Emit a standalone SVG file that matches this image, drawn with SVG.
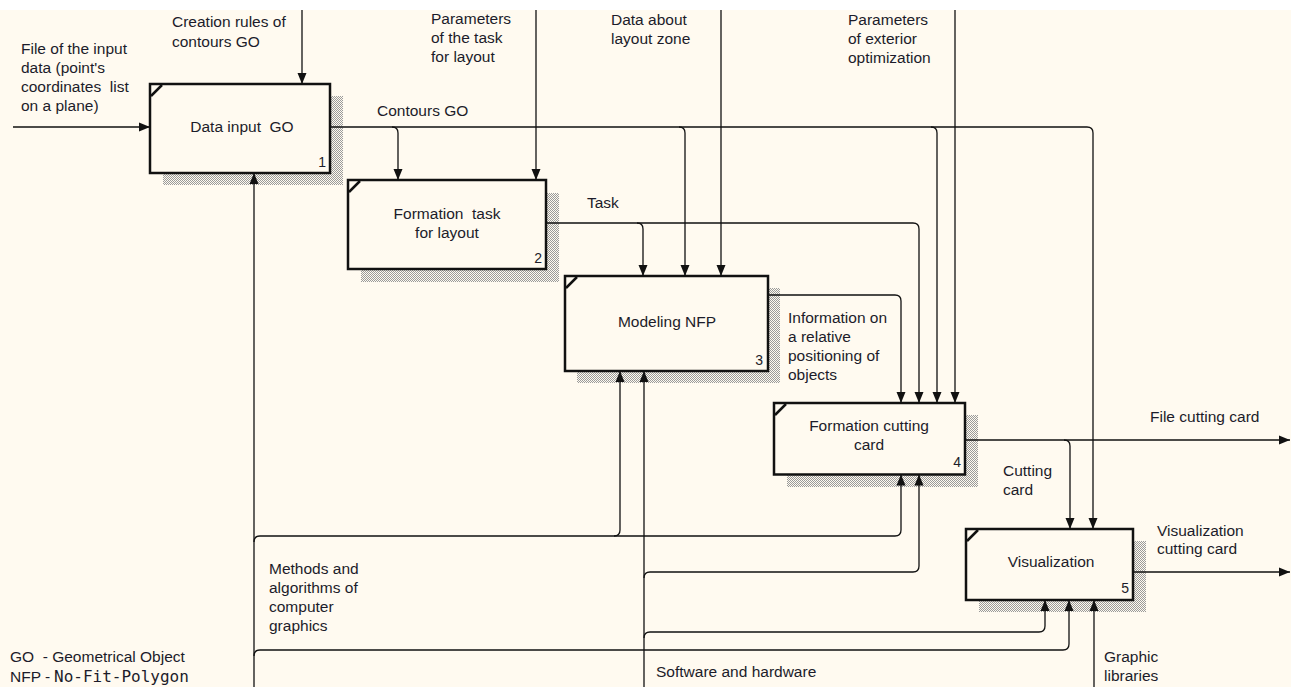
<svg xmlns="http://www.w3.org/2000/svg" width="1291" height="687" viewBox="0 0 1291 687">
<defs>
<style>
.t{font-family:"Liberation Sans",Arial,sans-serif;font-size:15.5px;fill:#1c1c2a}
.c{text-anchor:middle}
.n{font-family:"Liberation Sans",Arial,sans-serif;font-size:14px;fill:#1c1c2a;text-anchor:end}
.box{fill:#FFFAF0;stroke:#111;stroke-width:2.5}
.shadow{fill:url(#hatch)}
.mark{stroke:#111;stroke-width:2.5}
.ln{fill:none;stroke:#111;stroke-width:1.3}
.mono{font-family:"DejaVu Sans Mono","Liberation Mono",monospace;font-size:16px}
</style>
<pattern id="hatch" width="2" height="2" patternUnits="userSpaceOnUse">
<rect width="2" height="2" fill="#FFFAF0"/>
<rect width="1" height="1" fill="#9a9a9a"/>
<rect x="1" y="1" width="1" height="1" fill="#9a9a9a"/>
</pattern>
<marker id="arr" viewBox="0 0 11 10" refX="11" refY="5" markerWidth="11" markerHeight="10" markerUnits="userSpaceOnUse" orient="auto">
<path d="M0,0.5 L11,5 L0,9.5 z" fill="#111"/>
</marker>
</defs>
<rect x="0" y="0" width="1291" height="687" fill="#ffffff"/>
<rect x="0" y="10" width="1291" height="677" fill="#FFFAF0"/>

<g id="box1">
<rect class="shadow" x="163" y="96" width="180" height="89"/>
<rect class="box" x="150" y="84" width="180" height="89"/>
<line class="mark" x1="151" y1="96" x2="162" y2="85"/>
<text class="t c" x="242" y="132" xml:space="preserve">Data input  GO</text>
<text class="n" x="326" y="167">1</text>
</g>

<g id="box2">
<rect class="shadow" x="361" y="193" width="198" height="89"/>
<rect class="box" x="348" y="180" width="198" height="89"/>
<line class="mark" x1="349" y1="192" x2="360" y2="181"/>
<text class="t c" x="447" y="218.5" xml:space="preserve">Formation  task</text>
<text class="t c" x="447" y="238">for layout</text>
<text class="n" x="542" y="263">2</text>
</g>

<g id="box3">
<rect class="shadow" x="577" y="288" width="203" height="95"/>
<rect class="box" x="565" y="276" width="203" height="95"/>
<line class="mark" x1="566" y1="288" x2="577" y2="277"/>
<text class="t c" x="667" y="327">Modeling NFP</text>
<text class="n" x="763" y="365">3</text>
</g>

<g id="box4">
<rect class="shadow" x="787" y="415" width="191" height="72"/>
<rect class="box" x="774" y="403" width="191" height="71.5"/>
<line class="mark" x1="775" y1="415" x2="786" y2="404"/>
<text class="t c" x="869" y="430.5">Formation cutting</text>
<text class="t c" x="869" y="449.5">card</text>
<text class="n" x="961" y="467">4</text>
</g>

<g id="box5">
<rect class="shadow" x="979" y="541" width="167" height="71"/>
<rect class="box" x="966" y="529" width="167" height="71"/>
<line class="mark" x1="967" y1="541" x2="978" y2="530"/>
<text class="t c" x="1051" y="567">Visualization</text>
<text class="n" x="1129" y="593">5</text>
</g>

<g id="connectors">
<path class="ln" marker-end="url(#arr)" d="M13,127 H150"/>
<path class="ln" marker-end="url(#arr)" d="M302,10 V84"/>
<path class="ln" marker-end="url(#arr)" d="M536,10 V180"/>
<path class="ln" marker-end="url(#arr)" d="M721,10 V276"/>
<path class="ln" marker-end="url(#arr)" d="M955,10 V403"/>

<path class="ln" marker-end="url(#arr)" d="M330,127 H1087 Q1093,127 1093,133 V529"/>
<path class="ln" marker-end="url(#arr)" d="M392,127 Q398,127 398,133 V180"/>
<path class="ln" marker-end="url(#arr)" d="M679,127 Q685,127 685,133 V276"/>
<path class="ln" marker-end="url(#arr)" d="M931,127 Q937,127 937,133 V403"/>

<path class="ln" marker-end="url(#arr)" d="M546,223 H913 Q919,223 919,229 V403"/>
<path class="ln" marker-end="url(#arr)" d="M637,223 Q643,223 643,229 V276"/>

<path class="ln" marker-end="url(#arr)" d="M768,295 H895 Q901,295 901,301 V403"/>

<path class="ln" marker-end="url(#arr)" d="M965,440 H1290"/>
<path class="ln" marker-end="url(#arr)" d="M1064,440 Q1070,440 1070,446 V529"/>
<path class="ln" marker-end="url(#arr)" d="M1133,572 H1290"/>

<path class="ln" marker-end="url(#arr)" d="M254,687 V173"/>
<path class="ln" marker-end="url(#arr)" d="M254,542 Q254,536 260,536 H895 Q901,536 901,530 V474.5"/>
<path class="ln" marker-end="url(#arr)" d="M614,536 Q620,536 620,530 V371"/>
<path class="ln" marker-end="url(#arr)" d="M254,656 Q254,650 260,650 H1063 Q1069,650 1069,644 V600"/>

<path class="ln" marker-end="url(#arr)" d="M644,687 V371"/>
<path class="ln" marker-end="url(#arr)" d="M644,578 Q644,572 650,572 H913 Q919,572 919,566 V474.5"/>
<path class="ln" marker-end="url(#arr)" d="M644,638 Q644,632 650,632 H1039 Q1045,632 1045,626 V600"/>

<path class="ln" marker-end="url(#arr)" d="M1094,687 V600"/>
</g>

<g id="labels">
<text class="t" x="172" y="26.5">Creation rules of</text>
<text class="t" x="172" y="46.5">contours GO</text>
<text class="t" x="21" y="54">File of the input</text>
<text class="t" x="21" y="73">data (point's</text>
<text class="t" x="21" y="92" xml:space="preserve">coordinates  list</text>
<text class="t" x="21" y="111">on a plane)</text>
<text class="t" x="431" y="24">Parameters</text>
<text class="t" x="431" y="43">of the task</text>
<text class="t" x="431" y="62">for layout</text>
<text class="t" x="611" y="25">Data about</text>
<text class="t" x="611" y="44">layout zone</text>
<text class="t" x="848" y="24.5">Parameters</text>
<text class="t" x="848" y="44">of exterior</text>
<text class="t" x="848" y="63">optimization</text>
<text class="t" x="377" y="115.5">Contours GO</text>
<text class="t" x="587" y="208">Task</text>
<text class="t" x="788" y="323">Information on</text>
<text class="t" x="788" y="342">a relative</text>
<text class="t" x="788" y="361">positioning of</text>
<text class="t" x="788" y="380">objects</text>
<text class="t" x="1150" y="422">File cutting card</text>
<text class="t" x="1003" y="476">Cutting</text>
<text class="t" x="1003" y="495">card</text>
<text class="t" x="1157" y="535.5">Visualization</text>
<text class="t" x="1157" y="554">cutting card</text>
<text class="t" x="269" y="574">Methods and</text>
<text class="t" x="269" y="593">algorithms of</text>
<text class="t" x="269" y="612">computer</text>
<text class="t" x="269" y="631">graphics</text>
<text class="t" x="656" y="676.5">Software and hardware</text>
<text class="t" x="1104" y="662">Graphic</text>
<text class="t" x="1104" y="681">libraries</text>
<text class="t" x="10" y="662" xml:space="preserve">GO  - Geometrical Object</text>
<text class="t" x="10" y="682">NFP - <tspan class="mono" x="54">No-Fit-Polygon</tspan></text>
</g>
</svg>
